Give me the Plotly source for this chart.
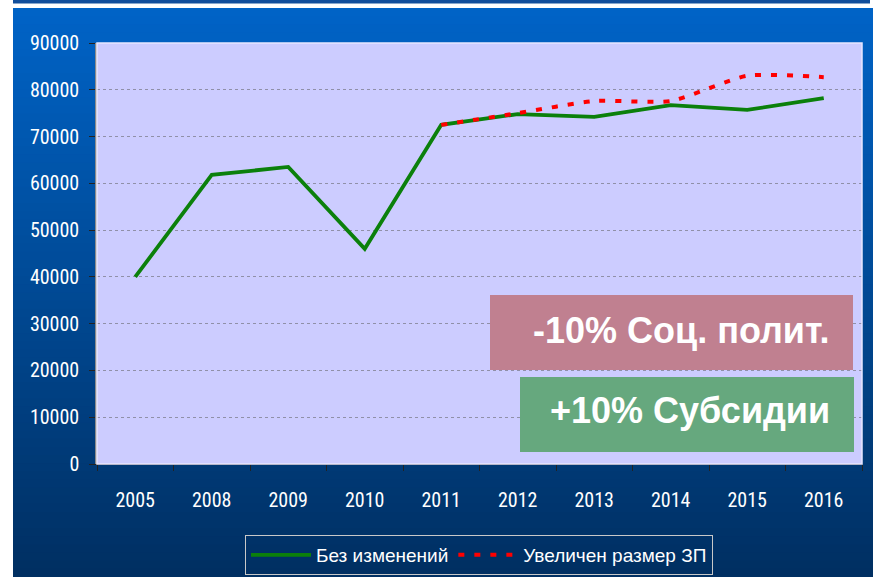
import plotly.graph_objects as go

years = ["2005", "2008", "2009", "2010", "2011", "2012", "2013", "2014", "2015", "2016"]
base_values = [40000, 61800, 63500, 46000, 72500, 74800, 74200, 76700, 75700, 78200]
scenario_years = ["2011", "2012", "2013", "2014", "2015", "2016"]
scenario_values = [72500, 75000, 77600, 77600, 83000, 82700]
y_ticks = list(range(0, 90001, 10000))
name_base = "Без изменений"
name_scen = "Увеличен размер ЗП"
label_red = "-10% Соц. полит."
label_green = "+10% Субсидии"

W, H = 873, 577
L, R, T, B = 97, 862, 43, 464

def px(x):
    return (x - L) / (R - L)

def py(y):
    return (B - y) / (B - T)

fig = go.Figure()
fig.add_trace(go.Scatter(x=years, y=base_values, mode="lines", name=name_base,
                         line=dict(color="#0B800B", width=3.8)))
fig.add_trace(go.Scatter(x=scenario_years, y=scenario_values, mode="lines", name=name_scen,
                         line=dict(color="#FF0000", width=4, dash="6px,10px", shape="spline", smoothing=0.6)))

shapes = []
# top frame strip
shapes.append(dict(type="rect", xref="paper", yref="paper", layer="below",
                   x0=px(13), x1=px(870), y0=py(3.5), y1=py(0), fillcolor="#114E9C", line_width=0))
# gradient background
n = 70
top_c = (0, 99, 198)
bot_c = (0, 47, 98)
y_start, y_end = 8, 577
for i in range(n):
    a = y_start + (y_end - y_start) * i / n
    b = y_start + (y_end - y_start) * (i + 1) / n + 1.5
    t = i / (n - 1)
    c = tuple(round(top_c[k] + (bot_c[k] - top_c[k]) * t) for k in range(3))
    shapes.append(dict(type="rect", xref="paper", yref="paper", layer="below",
                       x0=px(13), x1=px(873), y0=py(min(b, 577)), y1=py(a),
                       fillcolor="rgb(%d,%d,%d)" % c, line_width=0))
# plot area fill
shapes.append(dict(type="rect", xref="paper", yref="paper", layer="below",
                   x0=0, x1=1, y0=0, y1=1, fillcolor="#CCCCFF", line_width=0))
# plot border light
shapes.append(dict(type="rect", xref="paper", yref="paper", layer="above",
                   x0=0, x1=1, y0=0, y1=1, line=dict(color="#E6E6FF", width=1.5)))
# annotation boxes
shapes.append(dict(type="rect", xref="paper", yref="paper", layer="above",
                   x0=px(490), x1=px(853), y0=py(370), y1=py(295), fillcolor="#C08090", line_width=0))
shapes.append(dict(type="rect", xref="paper", yref="paper", layer="above",
                   x0=px(520), x1=px(854), y0=py(452), y1=py(377), fillcolor="#66A87E", line_width=0))

annotations = [
    dict(text=label_red, xref="paper", yref="paper", x=px(681), y=py(330), showarrow=False,
         xanchor="center", yanchor="middle",
         font=dict(family="Liberation Sans, Arial", size=36, color="white", weight="bold")),
    dict(text=label_green, xref="paper", yref="paper", x=px(690), y=py(410), showarrow=False,
         xanchor="center", yanchor="middle",
         font=dict(family="Liberation Sans, Arial", size=36, color="white", weight="bold")),
]

tick_font = dict(family="Liberation Sans Narrow, Arial Narrow, Roboto Condensed, Liberation Sans", size=20, color="white")

fig.update_layout(
    width=W, height=H,
    margin=dict(l=L, r=W - R, t=T, b=H - B, autoexpand=False),
    paper_bgcolor="white",
    plot_bgcolor="rgba(0,0,0,0)",
    shapes=shapes,
    annotations=annotations,
    showlegend=True,
    legend=dict(orientation="h", x=px(479), xanchor="center", y=py(535), yanchor="top",
                font=dict(family="Liberation Sans Narrow, Arial Narrow, Liberation Sans", size=19, color="white"),
                bgcolor="rgba(0,0,0,0)", bordercolor="#C8C8C8", borderwidth=1,
                itemwidth=60, tracegroupgap=0),
    xaxis=dict(type="category", categoryorder="array", categoryarray=years,
               tickson="boundaries", ticks="outside", ticklen=6, tickcolor="#222222",
               showline=True, linecolor="#222222", linewidth=1, showgrid=False,
               tickfont=tick_font, ticklabelstandoff=18, range=[-0.5, 9.5], automargin=False),
    yaxis=dict(range=[0, 90000], tickvals=y_ticks, ticktext=[str(v) for v in y_ticks],
               ticks="outside", ticklen=6, tickcolor="#222222",
               showline=True, linecolor="#8A8A8A", linewidth=1.5,
               showgrid=True, gridcolor="#9090A8", griddash="3px,3px", gridwidth=1,
               zeroline=False, tickfont=tick_font, ticklabelstandoff=6, automargin=False),
)

fig.write_html("out.html", config={"displayModeBar": False},
               post_script="document.body.style.margin='0';document.body.style.overflow='hidden';")
